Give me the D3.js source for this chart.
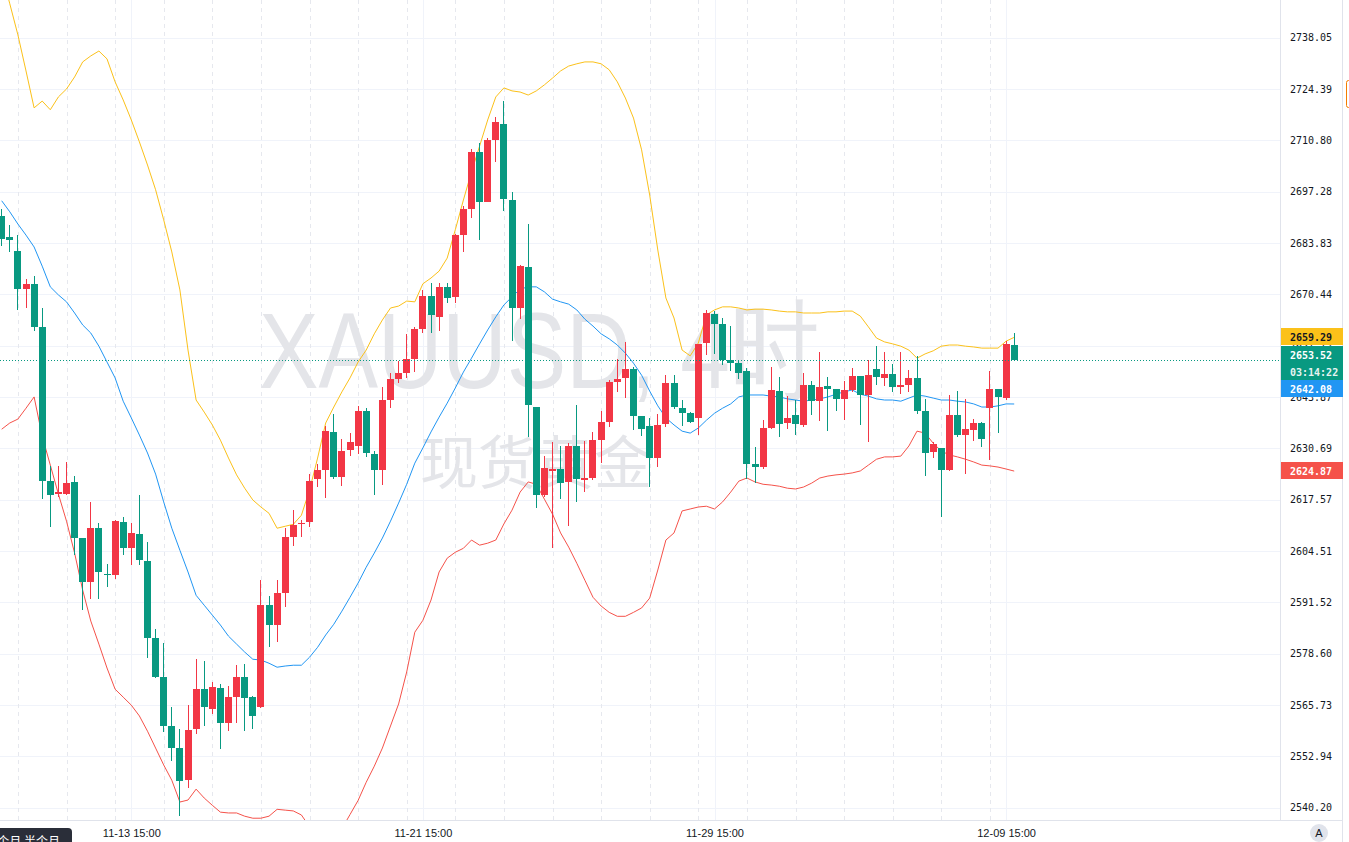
<!DOCTYPE html>
<html><head><meta charset="utf-8">
<script src="https://cdn.jsdelivr.net/npm/d3@7"></script>
<style>html,body{margin:0;padding:0;background:#fff;overflow:hidden}</style>
</head><body>
<svg id="c" width="1349" height="842"></svg>
<script>
// ---------- DATA (XAUUSD 4H) ----------
const openP = [
2690.9,2685.4,2681.8,2671.9,2673.2,2662.0,2622.3,2619.0,2619.0,2622.1,
2607.8,2596.7,2610.3,2598.8,2598.4,2611.9,2605.3,2608.8,2602.0,2582.6,
2572.8,2560.5,2555.1,2547.0,2559.7,2569.7,2564.7,2569.9,2561.3,2567.8,
2572.7,2567.7,2565.2,2590.8,2585.8,2593.9,2608.1,2611.3,2611.9,2622.8,
2625.1,2634.8,2623.4,2630.3,2631.4,2640.3,2629.2,2625.1,2643.1,2648.5,
2650.1,2653.6,2661.5,2670.0,2664.6,2672.3,2669.8,2685.9,2692.8,2707.8,
2694.7,2710.9,2715.1,2695.1,2667.0,2677.5,2641.2,2618.8,2624.9,2625.4,
2622.1,2631.4,2622.7,2623.2,2632.8,2637.5,2647.8,2648.9,2651.1,2639.1,
2636.4,2628.3,2637.0,2647.4,2641.0,2639.8,2638.5,2657.7,2665.4,2662.8,
2653.4,2652.6,2650.6,2626.8,2626.0,2635.9,2645.5,2637.3,2639.2,2636.8,
2647.0,2642.9,2646.7,2646.0,2643.4,2645.7,2649.3,2644.4,2651.1,2648.9,
2649.8,2646.5,2647.0,2648.8,2640.3,2629.8,2630.8,2625.1,2639.2,2634.1,
2635.4,2637.3,2641.1,2645.9,2643.7,2657.3];
const highP = [
2692.7,2688.6,2685.9,2674.4,2675.2,2667.0,2626.2,2626.2,2627.2,2623.6,
2607.9,2617.0,2611.7,2601.2,2612.4,2613.2,2611.7,2618.8,2606.9,2584.8,
2581.3,2565.3,2559.8,2565.8,2577.2,2576.7,2571.5,2571.0,2570.5,2575.7,
2576.0,2568.0,2597.1,2593.1,2597.1,2610.3,2614.9,2612.4,2624.1,2626.7,
2636.4,2639.5,2633.0,2634.7,2641.6,2641.0,2630.0,2646.5,2650.1,2653.2,
2660.2,2662.0,2671.6,2673.3,2673.3,2673.5,2686.2,2693.4,2708.5,2710.2,
2711.4,2717.1,2721.3,2697.1,2678.1,2688.8,2641.2,2628.8,2632.4,2631.3,
2632.0,2641.8,2632.6,2635.0,2640.3,2648.3,2653.7,2658.0,2651.7,2639.1,
2638.4,2639.4,2649.5,2649.5,2643.1,2640.1,2657.6,2666.4,2666.2,2664.2,
2662.2,2653.2,2651.4,2631.1,2638.0,2651.7,2649.1,2644.2,2643.1,2650.0,
2648.1,2655.5,2649.0,2646.0,2648.0,2651.3,2649.3,2653.4,2657.1,2655.6,
2652.4,2655.5,2650.8,2654.5,2643.3,2632.4,2630.8,2644.4,2645.4,2643.4,
2638.1,2637.5,2650.7,2645.9,2658.4,2660.5];
const lowP = [
2683.1,2681.6,2666.4,2667.0,2661.0,2617.8,2610.7,2618.2,2618.8,2603.5,
2589.6,2592.4,2592.4,2595.3,2597.4,2603.5,2600.9,2600.9,2577.6,2572.5,
2558.9,2551.7,2538.1,2545.1,2558.6,2560.5,2563.4,2554.7,2559.3,2561.3,
2559.3,2559.8,2564.9,2580.3,2581.6,2590.4,2605.8,2608.1,2610.5,2620.9,
2617.9,2622.9,2621.0,2628.8,2629.2,2628.5,2618.7,2621.3,2641.0,2647.4,
2648.9,2650.4,2660.3,2660.5,2661.0,2668.1,2668.3,2681.6,2690.5,2684.6,
2694.6,2705.2,2692.3,2658.4,2664.0,2633.7,2615.5,2618.3,2605.2,2617.8,
2610.9,2616.9,2619.6,2622.6,2627.0,2636.1,2645.2,2643.5,2635.4,2633.9,
2620.9,2626.0,2636.1,2640.8,2636.5,2637.1,2634.1,2654.7,2654.9,2652.1,
2650.7,2648.6,2622.8,2621.7,2625.5,2635.6,2633.7,2635.6,2634.1,2636.2,
2639.2,2637.8,2635.2,2640.3,2638.0,2645.2,2636.7,2632.4,2647.0,2646.7,
2645.2,2644.6,2645.2,2639.5,2623.7,2628.1,2613.2,2625.0,2633.5,2624.1,
2632.6,2631.1,2627.7,2634.7,2643.1,2653.5];
const closeP = [
2685.0,2684.7,2671.9,2673.2,2662.0,2622.4,2618.8,2619.6,2621.8,2607.8,
2596.7,2610.3,2599.2,2598.4,2612.2,2605.3,2609.1,2602.2,2582.6,2572.8,
2560.5,2555.1,2546.8,2559.5,2569.7,2565.3,2570.2,2561.3,2567.7,2572.7,
2567.5,2563.0,2590.8,2585.8,2593.9,2608.1,2611.1,2611.7,2622.3,2625.1,
2635.1,2623.4,2630.0,2632.3,2640.3,2629.6,2625.1,2643.1,2648.5,2650.1,
2653.6,2661.5,2670.0,2665.1,2672.3,2669.6,2685.9,2692.8,2707.8,2694.7,
2710.9,2715.6,2695.3,2667.0,2677.8,2641.7,2618.7,2625.6,2625.3,2621.9,
2631.4,2622.8,2623.1,2632.8,2637.4,2647.7,2648.5,2651.1,2639.1,2635.7,
2628.3,2636.7,2647.4,2641.3,2639.8,2637.4,2657.6,2665.5,2662.8,2653.5,
2652.7,2650.1,2626.7,2626.0,2635.9,2645.7,2637.0,2638.5,2637.0,2647.0,
2642.9,2646.4,2645.9,2643.4,2645.7,2649.3,2644.5,2649.5,2649.1,2649.8,
2646.5,2647.0,2648.8,2640.3,2629.6,2631.8,2625.1,2639.2,2634.1,2635.6,
2637.1,2633.2,2645.9,2643.9,2657.5,2653.52];
const bbUpper = [
2755.4,2747.1,2738.8,2729.2,2719.4,2721.2,2718.9,2722.3,2724.4,2727.6,
2731.6,2733.2,2734.5,2732.4,2726.3,2721.5,2716.2,2710.4,2704.3,2697.8,
2689.9,2681.5,2671.6,2656.0,2643.1,2640.0,2636.7,2632.8,2628.2,2623.9,
2620.5,2617.5,2615.7,2614.1,2610.3,2610.8,2611.3,2613.6,2620.0,2628.2,
2637.2,2641.3,2645.2,2648.8,2652.9,2656.0,2660.2,2663.8,2666.9,2667.4,
2668.7,2668.5,2673.2,2674.7,2676.5,2679.9,2687.3,2695.1,2702.5,2709.3,
2716.2,2722.3,2724.7,2723.9,2723.6,2722.8,2723.9,2725.5,2727.3,2729.2,
2730.5,2731.1,2731.6,2731.6,2731.1,2729.5,2726.3,2722.0,2716.7,2708.3,
2696.4,2682.0,2669.5,2664.3,2656.0,2654.5,2657.8,2665.1,2666.4,2667.2,
2667.2,2666.9,2666.4,2666.6,2666.6,2666.4,2666.1,2665.9,2665.9,2665.6,
2665.6,2665.6,2665.9,2665.9,2666.1,2666.1,2664.8,2662.0,2659.1,2658.1,
2657.6,2657.0,2656.0,2653.9,2655.0,2655.8,2657.0,2657.3,2657.3,2657.0,
2656.8,2656.5,2656.5,2656.5,2658.3,2659.29];
const bbBasis = [
2694.9,2692.0,2688.8,2685.9,2682.8,2677.8,2672.4,2670.3,2668.5,2665.6,
2662.5,2660.4,2657.0,2652.9,2648.8,2642.8,2638.5,2634.1,2629.5,2624.1,
2617.0,2610.3,2604.7,2599.2,2593.3,2590.8,2588.3,2585.8,2583.0,2581.0,
2579.0,2577.2,2577.0,2576.2,2575.2,2575.5,2575.7,2575.7,2577.7,2580.2,
2583.3,2586.0,2589.3,2592.8,2596.4,2600.4,2604.0,2607.8,2612.1,2616.7,
2621.5,2626.9,2630.8,2634.9,2638.7,2642.3,2646.2,2650.3,2653.9,2657.6,
2661.2,2664.6,2667.7,2669.8,2671.8,2672.4,2672.4,2671.1,2669.2,2668.5,
2667.9,2666.4,2664.0,2662.2,2660.2,2658.9,2657.3,2655.2,2652.6,2649.5,
2645.4,2641.6,2638.5,2636.7,2635.1,2634.6,2635.9,2637.9,2639.7,2641.0,
2642.1,2643.9,2644.4,2644.4,2644.4,2644.1,2643.9,2643.4,2643.1,2642.8,
2643.1,2643.4,2643.9,2644.6,2645.2,2645.7,2644.6,2644.1,2643.4,2643.1,
2643.1,2642.8,2643.6,2644.4,2644.1,2643.6,2643.1,2643.1,2642.8,2642.6,
2642.1,2641.3,2641.3,2641.6,2642.1,2642.08];
const bbLower = [
2635.6,2637.2,2638.2,2641.0,2643.9,2633.8,2626.4,2619.0,2612.1,2604.0,
2594.6,2586.8,2581.0,2575.0,2569.7,2567.7,2565.7,2563.0,2559.2,2555.0,
2550.8,2547.0,2541.6,2542.1,2544.8,2542.6,2540.8,2539.1,2538.9,2538.9,
2538.1,2537.6,2537.6,2538.1,2539.8,2539.6,2539.4,2538.4,2535.5,2533.0,
2531.0,2532.0,2535.0,2538.5,2542.0,2546.5,2550.5,2555.0,2560.5,2566.0,
2574.0,2584.0,2587.0,2592.1,2599.2,2602.7,2604.2,2605.2,2607.3,2606.0,
2606.5,2607.3,2611.4,2614.9,2619.5,2622.1,2621.5,2617.7,2613.9,2609.1,
2605.5,2601.4,2597.1,2592.8,2590.6,2589.0,2588.0,2588.0,2589.0,2590.1,
2592.6,2599.7,2607.3,2609.1,2614.7,2615.2,2615.7,2615.9,2615.2,2617.0,
2619.5,2622.3,2623.1,2622.1,2621.5,2621.3,2621.0,2620.5,2620.3,2620.8,
2621.8,2623.1,2623.6,2623.9,2624.1,2624.4,2624.9,2626.4,2627.9,2628.5,
2628.5,2628.7,2631.3,2635.1,2634.6,2632.0,2630.0,2629.0,2628.5,2627.9,
2627.2,2626.4,2626.2,2625.9,2625.4,2624.87];
const priceTicks = [2738.05,2724.39,2710.80,2697.28,2683.83,2670.44,2657.13,2643.87,
                    2630.69,2617.57,2604.51,2591.52,2578.60,2565.73,2552.94,2540.20];
const timeTickIndex = [16,52,88,124];
const timeTickLabels = ["11-13 15:00","11-21 15:00","11-29 15:00","12-09 15:00"];
const lastPrice = 2653.52;
const countdown = "03:14:22";
const symbolTitle = "XAUUSD, 4时";
const symbolName = "现货黄金";
const rangeButtons = "一个月 半个月";

// ---------- LAYOUT ----------
const W = 1349, H = 842, plotR = 1280, plotB = 820;
const UP = "#f23645", DOWN = "#089981";
const C_UP_BAND = "#fbc11a", C_MID = "#2196f3", C_LOW = "#f5524a";
const n = closeP.length;
const svg = d3.select("#c");
const x = d3.scaleLinear().domain([0, n - 1]).range([1.7, 1014.2]);
const y = d3.scaleLog().domain([2540.20, 2738.05]).range([807.7, 37.7]);

svg.append("rect").attr("width", W).attr("height", H).attr("fill", "#fff");
svg.append("defs").append("clipPath").attr("id", "plot")
  .append("rect").attr("x", 0).attr("y", 0).attr("width", plotR).attr("height", plotB);

const plot = svg.append("g").attr("clip-path", "url(#plot)");

// horizontal grid (from the price axis)
plot.append("g").call(d3.axisLeft(y).tickValues(priceTicks).tickSize(-plotR).tickFormat(""))
  .call(g => g.select(".domain").remove())
  .call(g => g.selectAll("line").attr("stroke", "#f0f3fa").attr("shape-rendering", "crispEdges"));

// vertical grid: dashed day lines + solid labelled lines
const dayIdx = d3.range(n).filter(i => i % 6 === 2);
plot.append("g").selectAll("line").data(dayIdx).join("line")
  .attr("x1", i => Math.round(x(i)) + 0.5).attr("x2", i => Math.round(x(i)) + 0.5)
  .attr("y1", 0).attr("y2", plotB)
  .attr("stroke", "#e6e8ee").attr("stroke-dasharray", "4,4");
plot.append("g").attr("transform", `translate(0,${plotB})`)
  .call(d3.axisBottom(x).tickValues(timeTickIndex).tickSize(-plotB).tickFormat(""))
  .call(g => g.select(".domain").remove())
  .call(g => g.selectAll("line").attr("stroke", "#f0f3fa").attr("shape-rendering", "crispEdges"));

// watermark
plot.append("text").attr("x", 259).attr("y", 388)
  .attr("font-family", "Liberation Sans, Arial, sans-serif").attr("font-size", 108)
  .attr("textLength", 560).attr("lengthAdjust", "spacingAndGlyphs")
  .attr("fill", "#e4e5e9").text(symbolTitle);
plot.append("text").attr("x", 420).attr("y", 484)
  .attr("font-family", "Noto Sans CJK SC").attr("font-size", 58)
  .attr("fill", "#e4e5e9").text(symbolName);

// Bollinger bands
const line = arr => d3.line().x((d, i) => x(i)).y(d => y(d))(arr);
[[bbUpper, C_UP_BAND], [bbBasis, C_MID], [bbLower, C_LOW]].forEach(([arr, c]) => {
  plot.append("path").attr("d", line(arr)).attr("fill", "none")
    .attr("stroke", c).attr("stroke-width", 1);
});

// candles
const candles = plot.append("g").attr("shape-rendering", "crispEdges");
d3.range(n).forEach(i => {
  const o = openP[i], c = closeP[i], hi = highP[i], lo = lowP[i];
  const col = c >= o ? UP : DOWN;
  const left = Math.round(x(i) - 3.5);
  const yh = Math.round(y(hi)), yl = Math.round(y(lo));
  candles.append("rect").attr("x", left + 3).attr("width", 1)
    .attr("y", yh).attr("height", Math.max(1, yl - yh)).attr("fill", col);
  const yt = Math.round(y(Math.max(o, c))), yb = Math.round(y(Math.min(o, c)));
  candles.append("rect").attr("x", left).attr("width", 7)
    .attr("y", yt).attr("height", Math.max(1, yb - yt)).attr("fill", col);
});

// last price dotted line
plot.append("line").attr("x1", 0).attr("x2", plotR)
  .attr("y1", Math.round(y(lastPrice)) + 0.5).attr("y2", Math.round(y(lastPrice)) + 0.5)
  .attr("stroke", DOWN).attr("stroke-dasharray", "1,2");

// ---------- AXES ----------
svg.append("line").attr("x1", plotR + 0.5).attr("x2", plotR + 0.5).attr("y1", 0).attr("y2", plotB)
  .attr("stroke", "#e0e3eb");
svg.append("line").attr("x1", 0).attr("x2", 1342).attr("y1", plotB + 0.5).attr("y2", plotB + 0.5)
  .attr("stroke", "#e0e3eb");
svg.append("line").attr("x1", 1342.5).attr("x2", 1342.5).attr("y1", 0).attr("y2", H)
  .attr("stroke", "#e0e3eb");
svg.append("rect").attr("x", 1346.5).attr("y", 80.5).attr("width", 12).attr("height", 27).attr("rx", 2)
  .attr("fill", "#fff").attr("stroke", "#f57c00");

const yAxis = svg.append("g").attr("transform", `translate(${plotR},0)`)
  .call(d3.axisRight(y).tickValues(priceTicks).tickSize(0).tickPadding(10).tickFormat(d => d.toFixed(2)));
yAxis.select(".domain").remove();
yAxis.selectAll("text").attr("font-family", "DejaVu Sans Mono, monospace").attr("font-size", 10)
  .attr("fill", "#131722");

const xAxis = svg.append("g").attr("transform", `translate(0,${plotB})`)
  .call(d3.axisBottom(x).tickValues(timeTickIndex).tickSize(0).tickPadding(9)
    .tickFormat((d, k) => timeTickLabels[k]));
xAxis.select(".domain").remove();
xAxis.selectAll("text").attr("font-family", "Liberation Sans, Arial, sans-serif").attr("font-size", 11)
  .attr("fill", "#131722");

// price badges
const badges = [
  {v: bbUpper[n - 1], top: 328, fill: C_UP_BAND, tc: "#131722"},
  {v: lastPrice,      top: 346, fill: DOWN, tc: "#fff"},
  {t: countdown,      top: 363, fill: DOWN, tc: "#e6f4f1"},
  {v: bbBasis[n - 1], top: 380, fill: C_MID, tc: "#fff"},
  {v: bbLower[n - 1], top: 462, fill: C_LOW, tc: "#fff"}
];
const bg = svg.append("g");
badges.forEach(b => {
  bg.append("rect").attr("x", plotR + 1).attr("y", b.top).attr("width", 62).attr("height", 17)
    .attr("fill", b.fill);
  bg.append("text").attr("x", plotR + 10).attr("y", b.top + 12.5)
    .attr("font-family", "DejaVu Sans Mono, monospace").attr("font-size", 10)
    .attr("font-weight", "bold").attr("fill", b.tc)
    .text(b.t ? b.t : b.v.toFixed(2));
});

// auto-scale button
svg.append("circle").attr("cx", 1319).attr("cy", 833).attr("r", 9).attr("fill", "#e0e3eb");
svg.append("text").attr("x", 1319).attr("y", 837).attr("text-anchor", "middle")
  .attr("font-family", "Liberation Sans, Arial").attr("font-size", 11).attr("fill", "#131722").text("A");

// range tooltip at bottom-left
const tip = svg.append("g");
tip.append("rect").attr("x", -8).attr("y", 828).attr("width", 80).attr("height", 24).attr("rx", 4)
  .attr("fill", "#2a2e39");
tip.append("text").attr("x", 60).attr("y", 846).attr("text-anchor", "end")
  .attr("font-family", "Noto Sans CJK SC").attr("font-size", 12).attr("fill", "#fff").text(rangeButtons);
</script>
</body></html>
